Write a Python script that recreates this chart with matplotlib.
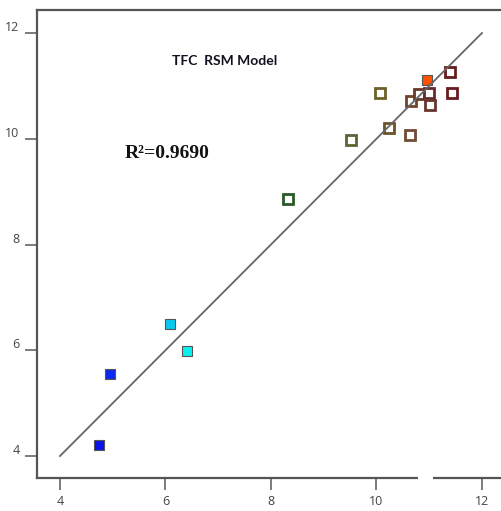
import matplotlib
matplotlib.use("Agg")
import matplotlib.pyplot as plt
from matplotlib.transforms import ScaledTranslation
from matplotlib.patches import Rectangle

# Actual vs. predicted TFC values
actual = [4.74, 4.95, 6.09, 6.41, 8.32, 9.52, 10.07, 10.24, 10.64,
          10.66, 10.81, 11.00, 10.96, 11.01, 11.39, 11.43]
predicted = [4.21, 5.55, 6.50, 5.98, 8.86, 9.97, 10.86, 10.20, 10.07,
             10.71, 10.84, 10.86, 11.11, 10.64, 11.26, 10.86]
filled = [True, True, True, True, False, False, False, False, False,
          False, False, False, True, False, False, False]
point_colors = ['#0A14E6', '#0A28F0', '#0AC8F0', '#0AF0F0', '#2A5A28',
                '#5A6436', '#6E6028', '#685428', '#704C34', '#704428',
                '#663828', '#642C2C', '#FF5000', '#68362C', '#661C1C',
                '#661C20']
ticks = [4, 6, 8, 10, 12]
title_text = "TFC  RSM Model"
r2_text = "R\u00b2=0.9690"

fig = plt.figure(figsize=(5.02, 5.11), dpi=100)
ax = fig.add_axes([37 / 502, 1 - 478 / 511, 1 - 37 / 502, (478 - 10) / 511])

ax.set_xlim(3.564, 12.38)
ax.set_ylim(3.584, 12.435)

# Identity line
ax.plot([4, 12], [4, 12], color='#666666', lw=1.3, zorder=3)

for x, y, c, f in zip(actual, predicted, point_colors, filled):
    if f:
        ax.plot(x, y, marker='s', ms=7.5, mfc=c, mec='#555555', mew=0.8,
                ls='none', zorder=2)
    else:
        ax.plot(x, y, marker='s', ms=7.5, mfc='white', mec=c, mew=2.0,
                ls='none', zorder=2)

for side in ['top', 'left', 'bottom']:
    ax.spines[side].set_color('#555555')
    ax.spines[side].set_linewidth(1.6)
ax.spines['right'].set_visible(False)

ax.set_xticks(ticks)
ax.set_yticks(ticks)
ax.tick_params(direction='out', length=8.5, width=1.2, color='#666666',
               labelsize=9, labelcolor='#444444')
ax.tick_params(axis='x', pad=4)
ax.tick_params(axis='y', pad=4)
for lab in ax.get_xticklabels() + ax.get_yticklabels():
    lab.set_fontfamily('Open Sans')
for lab in ax.get_yticklabels():
    lab.set_transform(lab.get_transform() +
                      ScaledTranslation(0, 7 / 100, fig.dpi_scale_trans))

ax.text(225 / 502, 1 - 61 / 511, title_text, transform=fig.transFigure,
        ha='center', va='center', fontsize=10, fontweight='bold',
        family='Lato', color='#101020')
ax.text(125 / 502, 1 - 154 / 511, r2_text, transform=fig.transFigure,
        ha='left', va='center', fontsize=14, fontweight='bold',
        family='Liberation Serif', color='#111111')

# Break in the bottom axis line
fig.patches.append(Rectangle((418 / 502, 1 - 482 / 511), 15 / 502, 8 / 511,
                             transform=fig.transFigure, facecolor='white',
                             edgecolor='none', zorder=10))

fig.savefig('out.png', dpi=100)
